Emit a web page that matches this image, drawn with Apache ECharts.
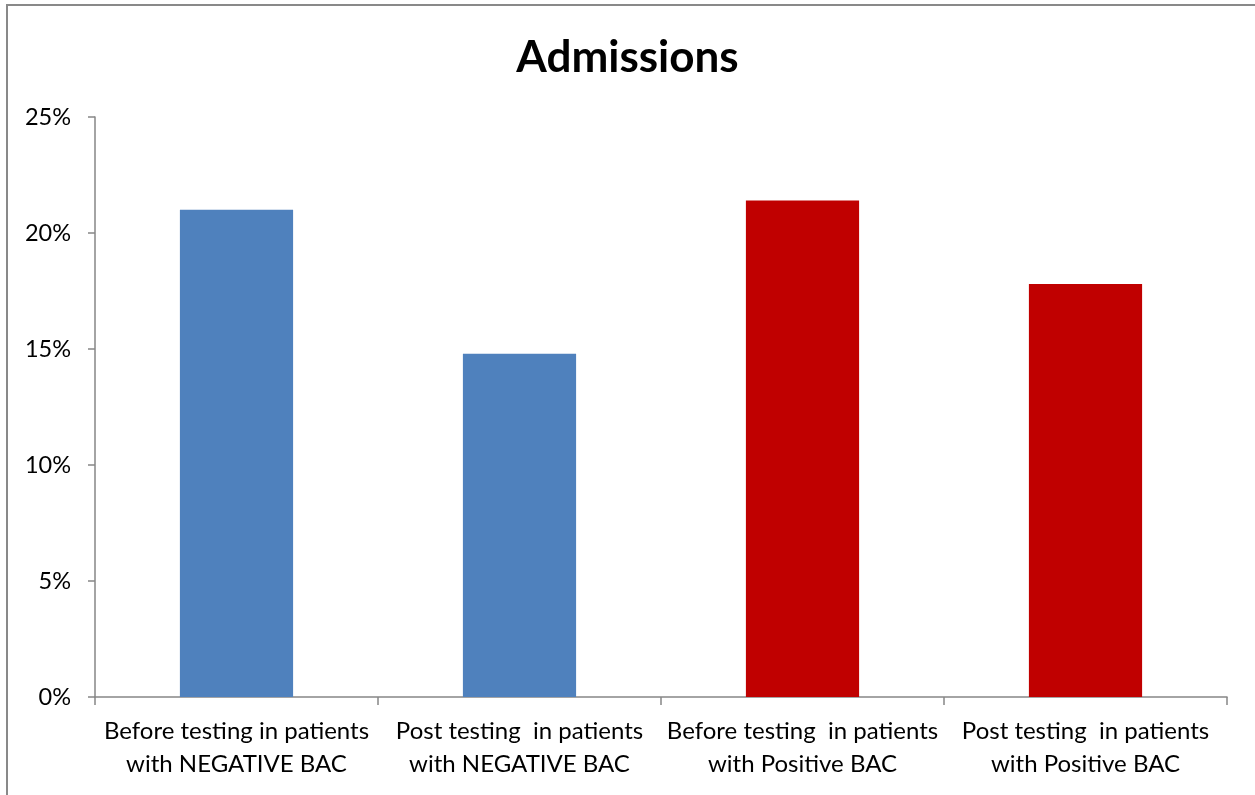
<!DOCTYPE html>
<html>
<head>
<meta charset="utf-8">
<script src="https://cdn.jsdelivr.net/npm/echarts@6/dist/echarts.min.js"></script>
<style>
  html, body { margin: 0; padding: 0; background: #fff; }
  #chart { width: 1255px; height: 795px; }
</style>
</head>
<body>
<div id="chart"></div>
<script>
// Admission rates by BAC test group
const categories = [
  'Before testing in patients\nwith NEGATIVE BAC',
  'Post testing  in patients\nwith NEGATIVE BAC',
  'Before testing  in patients\nwith Positive BAC',
  'Post testing  in patients\nwith Positive BAC'
];
const admissionPct = [21.0, 14.8, 21.4, 17.8];
const barColors = ['#4F81BD', '#4F81BD', '#C00000', '#C00000'];
const yTicks = [0, 5, 10, 15, 20, 25];

const font = 'Lato, "Open Sans", sans-serif';
const axisGray = '#868686';

const chart = echarts.init(document.getElementById('chart'), null, { renderer: 'canvas' });
chart.setOption({
  animation: false,
  backgroundColor: '#ffffff',
  title: {
    text: 'Admissions',
    left: 'center',
    top: 31,
    textStyle: { fontFamily: font, fontWeight: 'bold', fontSize: 44, color: '#000' }
  },
  graphic: [{
    type: 'rect',
    shape: { x: 7, y: 5, width: 1300, height: 850 },
    style: { fill: 'none', stroke: '#898989', lineWidth: 2 },
    silent: true
  }],
  grid: { left: 95, right: 28, top: 117, bottom: 98, containLabel: false },
  xAxis: {
    type: 'category',
    data: categories,
    axisLine: { lineStyle: { color: axisGray, width: 1.5 } },
    axisTick: { show: true, alignWithLabel: false, length: 8, lineStyle: { color: axisGray, width: 1.5 } },
    axisLabel: {
      interval: 0, margin: 18, color: '#000', fontFamily: font, fontSize: 24, lineHeight: 33
    }
  },
  yAxis: {
    type: 'value',
    min: 0, max: 25, interval: 5,
    axisLine: { show: true, lineStyle: { color: axisGray, width: 1.5 } },
    axisTick: { show: true, length: 7, lineStyle: { color: axisGray, width: 1.5 } },
    splitLine: { show: false },
    axisLabel: {
      margin: 24, color: '#000', fontFamily: font, fontSize: 23.5,
      formatter: v => yTicks.includes(v) ? v + '%' : ''
    }
  },
  series: [{
    type: 'bar',
    data: admissionPct.map((v, i) => ({ value: v, itemStyle: { color: barColors[i] } })),
    barWidth: '40%'
  }]
});
</script>
</body>
</html>
